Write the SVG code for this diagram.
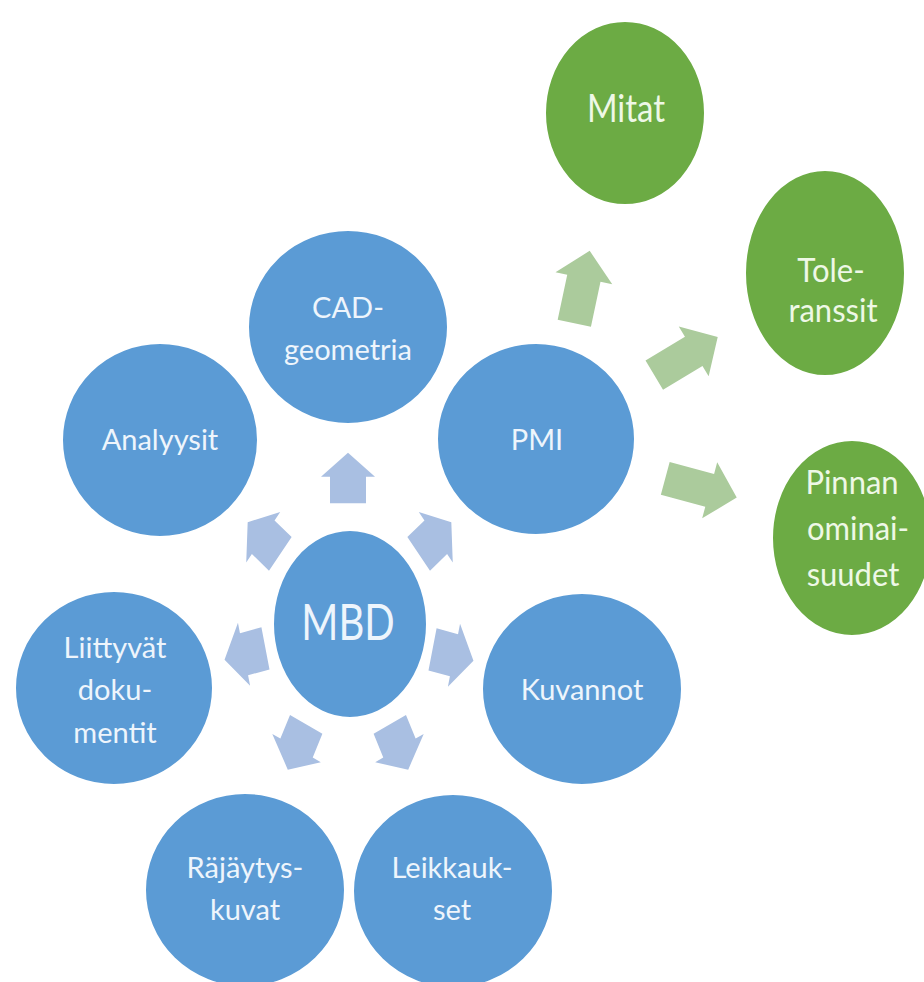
<svg xmlns="http://www.w3.org/2000/svg" width="924" height="982" viewBox="0 0 924 982">
<style>
.bn{fill:#5b9bd5;stroke:#ffffff;stroke-width:2}
.gn{fill:#6cab44;stroke:#ffffff;stroke-width:2}
.bt{font-family:Lato,"Liberation Sans",sans-serif;font-size:29px;fill:#eef5fc;text-anchor:middle}
.gt{font-family:Lato,"Liberation Sans",sans-serif;font-size:31px;fill:#eef8e6;text-anchor:middle}
.ba{fill:#a9bfe2}
.ga{fill:#abcb9c}
</style>
<defs>
<path id="barrow" d="M0,-21 L27,-1 L18,-1 L18,21 L-18,21 L-18,-1 L-27,-1 Z"/>
<path id="garrow" d="M0,-37 L29,-9 L17,-9 L17,37 L-17,37 L-17,-9 L-29,-9 Z"/>
</defs>
<rect width="924" height="982" fill="#ffffff"/>
<g id="connectors">
<use href="#barrow" class="ba" transform="translate(348,478) scale(1,1.2) rotate(0)"/>
<use href="#barrow" class="ba" transform="translate(435,538) scale(1,1.2) rotate(51)"/>
<use href="#barrow" class="ba" transform="translate(264,538) scale(1,1.2) rotate(-51)"/>
<use href="#barrow" class="ba" transform="translate(453,655) scale(1,1.2) rotate(103)"/>
<use href="#barrow" class="ba" transform="translate(245,654) scale(1,1.2) rotate(-103)"/>
<use href="#barrow" class="ba" transform="translate(399,747) scale(1,1.2) rotate(154)"/>
<use href="#barrow" class="ba" transform="translate(297,747) scale(1,1.2) rotate(-154)"/>
<use href="#garrow" class="ga" transform="translate(582,287) rotate(12)"/>
<use href="#garrow" class="ga" transform="translate(686,356) rotate(59)"/>
<use href="#garrow" class="ga" transform="translate(701,488) rotate(105)"/>
</g>
<g id="mbd">
<ellipse class="bn" cx="350" cy="624" rx="77" ry="94"/>
<text class="bt" style="font-size:40px" transform="translate(348,640) scale(1,1.25)">MBD</text>
</g>
<g id="cad">
<ellipse class="bn" cx="348" cy="327" rx="100" ry="97"/>
<text class="bt" x="348" y="318">CAD-</text>
<text class="bt" x="348" y="360">geometria</text>
</g>
<g id="analyysit">
<ellipse class="bn" cx="160" cy="440" rx="98" ry="97"/>
<text class="bt" x="160" y="450">Analyysit</text>
</g>
<g id="pmi">
<ellipse class="bn" cx="536" cy="439" rx="99" ry="96"/>
<text class="bt" x="537" y="450">PMI</text>
</g>
<g id="kuvannot">
<ellipse class="bn" cx="582" cy="689" rx="100" ry="96"/>
<text class="bt" x="582" y="700">Kuvannot</text>
</g>
<g id="liittyvat">
<ellipse class="bn" cx="114" cy="688" rx="99" ry="97"/>
<text class="bt" x="115" y="658">Liittyvät</text>
<text class="bt" x="115" y="700">doku-</text>
<text class="bt" x="115" y="743">mentit</text>
</g>
<g id="rajaytys">
<ellipse class="bn" cx="245" cy="890" rx="100" ry="97"/>
<text class="bt" x="245" y="878">Räjäytys-</text>
<text class="bt" x="245" y="920">kuvat</text>
</g>
<g id="leikkaukset">
<ellipse class="bn" cx="453" cy="891" rx="100" ry="97"/>
<text class="bt" x="452" y="878">Leikkauk-</text>
<text class="bt" x="452" y="920">set</text>
</g>
<g id="mitat">
<ellipse class="gn" cx="625" cy="113" rx="80" ry="92"/>
<text class="gt" style="font-size:33px" transform="translate(626,122) scale(1,1.15)">Mitat</text>
</g>
<g id="toleranssit">
<ellipse class="gn" cx="825" cy="273" rx="80" ry="103"/>
<text class="gt" transform="translate(831,282) scale(1,1.08)">Tole-</text>
<text class="gt" transform="translate(833,322) scale(1,1.08)">ranssit</text>
</g>
<g id="pinnan">
<ellipse class="gn" cx="852" cy="538" rx="80" ry="98"/>
<text class="gt" transform="translate(852,494) scale(1,1.08)">Pinnan</text>
<text class="gt" transform="translate(858,540) scale(1,1.08)">ominai-</text>
<text class="gt" transform="translate(853,586) scale(1,1.08)">suudet</text>
</g>
</svg>
